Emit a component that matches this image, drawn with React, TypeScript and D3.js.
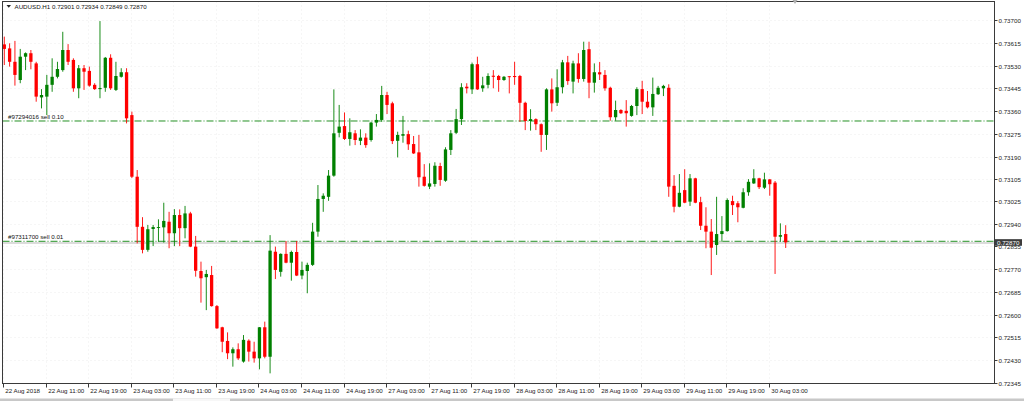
import * as d3 from "d3";
import { useEffect, useRef } from "react";

const symbol = "AUDUSD.H1";

// x axis labels, one every 8 hourly bars (bar 0 = 22 Aug 03:00)
const timeLabels = [
  "22 Aug 2018", "22 Aug 11:00", "22 Aug 19:00", "23 Aug 03:00", "23 Aug 11:00",
  "23 Aug 19:00", "24 Aug 03:00", "24 Aug 11:00", "24 Aug 19:00", "27 Aug 03:00",
  "27 Aug 11:00", "27 Aug 19:00", "28 Aug 03:00", "28 Aug 11:00", "28 Aug 19:00",
  "29 Aug 03:00", "29 Aug 11:00", "29 Aug 19:00", "30 Aug 03:00",
];
const labelStep = 8;

const priceTicks = [
  0.737, 0.73615, 0.7353, 0.73445, 0.7336, 0.73275, 0.7319, 0.73105, 0.73025,
  0.7294, 0.72855, 0.7277, 0.72685, 0.726, 0.72515, 0.7243, 0.72345,
];

const opens = [
  0.73609, 0.73594, 0.73544, 0.73476, 0.73563, 0.73576, 0.73538, 0.73411, 0.73414, 0.73458,
  0.73488, 0.73513, 0.73588, 0.73551, 0.73445, 0.7352, 0.7351, 0.73458, 0.73442, 0.73447,
  0.73559, 0.73439, 0.73488, 0.73505, 0.73345, 0.73115, 0.72928, 0.72842, 0.7292, 0.72925,
  0.72926, 0.72947, 0.72904, 0.72972, 0.72923, 0.72978, 0.72854, 0.72763, 0.7274, 0.72748,
  0.72632, 0.72553, 0.72502, 0.72456, 0.72471, 0.72425, 0.72503, 0.72462, 0.72437, 0.72553,
  0.72443, 0.72835, 0.7276, 0.72827, 0.72794, 0.72834, 0.72746, 0.72763, 0.72786, 0.7291,
  0.73032, 0.7304, 0.73119, 0.73279, 0.73304, 0.73256, 0.73277, 0.73249, 0.73261, 0.73252,
  0.73317, 0.73327, 0.7342, 0.73389, 0.73249, 0.73268, 0.73274, 0.73237, 0.73206, 0.73115,
  0.73078, 0.73088, 0.73155, 0.731, 0.73215, 0.73279, 0.7333, 0.73451, 0.73441, 0.73535,
  0.73445, 0.73458, 0.73492, 0.73491, 0.73476, 0.7349, 0.73491, 0.73491, 0.73391, 0.73323,
  0.7333, 0.73311, 0.73271, 0.73441, 0.73391, 0.73449, 0.73542, 0.7347, 0.73538, 0.7348,
  0.73591, 0.73466, 0.73505, 0.73495, 0.73447, 0.73337, 0.73364, 0.73361, 0.73342, 0.73379,
  0.73442, 0.73395, 0.73374, 0.73423, 0.73445, 0.73447, 0.73081, 0.73003, 0.73065, 0.73022,
  0.73109, 0.7302, 0.72932, 0.7291, 0.7286, 0.72901, 0.72912, 0.73024, 0.73016, 0.72999,
  0.73057, 0.7309, 0.73109, 0.73074, 0.73105, 0.73093, 0.72891, 0.72901,
];
const highs = [
  0.73638, 0.73613, 0.73622, 0.73592, 0.73579, 0.73588, 0.73544, 0.73442, 0.73495, 0.73557,
  0.73544, 0.73656, 0.7361, 0.73557, 0.73532, 0.73532, 0.73526, 0.73464, 0.73696, 0.73562,
  0.73572, 0.73544, 0.7352, 0.7352, 0.73358, 0.7314, 0.72964, 0.72935, 0.72935, 0.72956,
  0.73018, 0.72984, 0.72994, 0.72993, 0.73006, 0.72984, 0.72894, 0.72798, 0.72767, 0.72782,
  0.72636, 0.72555, 0.72534, 0.72478, 0.72493, 0.72524, 0.72508, 0.72499, 0.72554, 0.72574,
  0.72897, 0.72854, 0.72829, 0.72875, 0.72839, 0.72875, 0.72798, 0.72794, 0.72943, 0.73084,
  0.73053, 0.7314, 0.73441, 0.73383, 0.73355, 0.73333, 0.73289, 0.73292, 0.73277, 0.7332,
  0.73349, 0.73454, 0.73432, 0.73395, 0.73283, 0.73342, 0.73287, 0.73267, 0.73271, 0.73162,
  0.73165, 0.73169, 0.73167, 0.73225, 0.73289, 0.73368, 0.73464, 0.73464, 0.73541, 0.73563,
  0.73488, 0.73501, 0.73513, 0.73495, 0.73491, 0.73491, 0.73544, 0.73495, 0.73395, 0.73367,
  0.73333, 0.73314, 0.73445, 0.73482, 0.73516, 0.73551, 0.73566, 0.73548, 0.73576, 0.73619,
  0.73619, 0.73538, 0.73543, 0.73513, 0.73451, 0.73399, 0.73367, 0.73401, 0.73383, 0.73449,
  0.73473, 0.73435, 0.73485, 0.73454, 0.73458, 0.7346, 0.73121, 0.73125, 0.73143, 0.73125,
  0.73111, 0.7304, 0.73001, 0.72957, 0.7304, 0.72968, 0.73034, 0.73044, 0.73024, 0.73072,
  0.73106, 0.73143, 0.73111, 0.7313, 0.73106, 0.73099, 0.72941, 0.72934,
];
const lows = [
  0.73532, 0.73526, 0.73455, 0.73464, 0.73513, 0.73516, 0.73395, 0.7337, 0.73345, 0.73432,
  0.73482, 0.73507, 0.73532, 0.73432, 0.73408, 0.73439, 0.73451, 0.73439, 0.73408, 0.73432,
  0.73439, 0.73435, 0.73485, 0.73314, 0.7311, 0.72866, 0.72829, 0.72835, 0.72856, 0.72872,
  0.72869, 0.72848, 0.72856, 0.72856, 0.72885, 0.72852, 0.72742, 0.72645, 0.72617, 0.7263,
  0.72547, 0.7246, 0.72434, 0.72406, 0.72431, 0.72421, 0.72425, 0.72421, 0.72396, 0.72437,
  0.72381, 0.72733, 0.72742, 0.72792, 0.72727, 0.72744, 0.72732, 0.7268, 0.72782, 0.72891,
  0.72984, 0.73025, 0.73115, 0.73262, 0.73252, 0.73231, 0.73233, 0.73233, 0.73223, 0.73246,
  0.73302, 0.7332, 0.73349, 0.73237, 0.73187, 0.73242, 0.73215, 0.732, 0.73078, 0.73078,
  0.73069, 0.73078, 0.73081, 0.73096, 0.73196, 0.73274, 0.73308, 0.73426, 0.73424, 0.73439,
  0.73432, 0.73445, 0.73445, 0.73432, 0.73473, 0.73426, 0.73458, 0.7332, 0.73289, 0.73287,
  0.73289, 0.73208, 0.73215, 0.73358, 0.73379, 0.73426, 0.73458, 0.73426, 0.73466, 0.7347,
  0.73408, 0.73429, 0.73476, 0.73436, 0.73324, 0.73324, 0.73349, 0.73302, 0.73339, 0.73345,
  0.73349, 0.7337, 0.73342, 0.7342, 0.73416, 0.7304, 0.72982, 0.73001, 0.73016, 0.73006,
  0.73016, 0.72916, 0.72848, 0.72748, 0.72823, 0.72872, 0.7291, 0.72972, 0.72945, 0.72997,
  0.73044, 0.73088, 0.73069, 0.73069, 0.73044, 0.72752, 0.72872, 0.72849,
];
const closes = [
  0.73592, 0.73544, 0.73495, 0.73563, 0.73576, 0.73544, 0.73414, 0.7342, 0.73458, 0.73488,
  0.73517, 0.73588, 0.73544, 0.73445, 0.7352, 0.73507, 0.73455, 0.73442, 0.73446, 0.73559,
  0.73445, 0.73491, 0.73505, 0.73333, 0.73115, 0.72928, 0.72842, 0.72919, 0.72927, 0.72927,
  0.7295, 0.72904, 0.72972, 0.72923, 0.72978, 0.72854, 0.72764, 0.72736, 0.72752, 0.72632,
  0.72549, 0.72499, 0.72456, 0.72471, 0.72437, 0.72506, 0.72462, 0.72437, 0.72553, 0.72443,
  0.72839, 0.72767, 0.72827, 0.72794, 0.72834, 0.72746, 0.72767, 0.72786, 0.7291, 0.73032,
  0.73044, 0.73119, 0.73277, 0.73302, 0.73256, 0.73281, 0.73252, 0.73261, 0.73233, 0.73317,
  0.73327, 0.7342, 0.73383, 0.73248, 0.73271, 0.73274, 0.73236, 0.73202, 0.73113, 0.73081,
  0.7309, 0.73156, 0.73103, 0.73217, 0.73277, 0.7333, 0.73449, 0.73445, 0.73535, 0.73441,
  0.73456, 0.73491, 0.73488, 0.73476, 0.73488, 0.73487, 0.73487, 0.73391, 0.73323, 0.7333,
  0.73311, 0.73271, 0.73441, 0.73389, 0.73449, 0.73542, 0.73472, 0.73538, 0.7348, 0.73588,
  0.73466, 0.73505, 0.73497, 0.73445, 0.73337, 0.73364, 0.73352, 0.73352, 0.73379, 0.73442,
  0.73395, 0.73374, 0.73424, 0.73447, 0.73454, 0.73078, 0.73003, 0.73055, 0.73018, 0.73109,
  0.73018, 0.72932, 0.7291, 0.7285, 0.72901, 0.72912, 0.73028, 0.73009, 0.73001, 0.73057,
  0.73096, 0.73109, 0.73076, 0.73105, 0.73087, 0.72891, 0.72897, 0.7287,
];

const orderLabels = ["#97294016 sell 0.10", "#97311700 sell 0.01"];
const orderPrices = [0.73323, 0.72874];

const font = "'Liberation Sans', Arial, sans-serif";
const bullColor = "#008000";
const bearColor = "#ff0000";
const orderColor = "#239023";

// plot frame
const frameLeft = 2.5;
const frameRight = 994.5;
const frameTop = 1.5;
const frameBottom = 383.5;

export default function App() {
  const ref = useRef<SVGSVGElement>(null);

  useEffect(() => {
    document.body.style.margin = "0";
    const svg = d3.select(ref.current);
    svg.selectAll("*").remove();

    const n = closes.length;
    const x = d3.scaleLinear().domain([0, n - 1]).range([4.3, 785.7]);
    const y = d3.scaleLinear().domain([0.72345, 0.737]).range([383, 20]);

    svg.append("rect").attr("width", 1024).attr("height", 401).attr("fill", "#fff");

    svg.append("clipPath").attr("id", "plot-clip")
      .append("rect")
      .attr("x", frameLeft).attr("y", frameTop)
      .attr("width", frameRight - frameLeft).attr("height", frameBottom - frameTop);

    // dotted grid, barely visible
    const grid = svg.append("g")
      .attr("stroke", "#ececec")
      .attr("stroke-dasharray", "1 3");
    grid.selectAll("line.h")
      .data(priceTicks)
      .join("line")
      .attr("x1", frameLeft).attr("x2", frameRight)
      .attr("y1", d => Math.round(y(d)) + 0.5).attr("y2", d => Math.round(y(d)) + 0.5);
    grid.selectAll("line.v")
      .data(timeLabels)
      .join("line")
      .attr("class", "v")
      .attr("x1", (_, i) => Math.round(x(i * labelStep) - 1) + 0.5)
      .attr("x2", (_, i) => Math.round(x(i * labelStep) - 1) + 0.5)
      .attr("y1", frameTop).attr("y2", frameBottom);

    const plot = svg.append("g").attr("clip-path", "url(#plot-clip)");

    // bid line
    const last = closes[n - 1];
    plot.append("line")
      .attr("x1", frameLeft).attr("x2", frameRight)
      .attr("y1", y(last) + 0.6).attr("y2", y(last) + 0.6)
      .attr("stroke", "#dcdcdc").attr("stroke-width", 2);

    // order lines
    orderPrices.forEach((p, i) => {
      plot.append("line")
        .attr("x1", frameLeft).attr("x2", frameRight)
        .attr("y1", y(p)).attr("y2", y(p))
        .attr("stroke", orderColor)
        .attr("stroke-width", 1)
        .attr("stroke-dasharray", "7 2 1 2");
      plot.append("text")
        .attr("x", 8).attr("y", y(p) - 2.3)
        .attr("font-family", font).attr("font-size", 6.2)
        .attr("fill", "#111")
        .text(orderLabels[i]);
    });

    // candles
    const idx = d3.range(n);
    const color = (i: number) => (closes[i] >= opens[i] ? bullColor : bearColor);
    const candles = plot.append("g");
    candles.selectAll("line")
      .data(idx)
      .join("line")
      .attr("x1", i => x(i)).attr("x2", i => x(i))
      .attr("y1", i => y(highs[i])).attr("y2", i => y(lows[i]))
      .attr("stroke", color)
      .attr("stroke-width", 0.9);
    candles.selectAll("rect")
      .data(idx)
      .join("rect")
      .attr("x", i => x(i) - 1.65)
      .attr("width", 3.3)
      .attr("y", i => y(Math.max(opens[i], closes[i])))
      .attr("height", i => Math.max(0.9, Math.abs(y(opens[i]) - y(closes[i]))))
      .attr("fill", color);

    // frame
    svg.append("rect")
      .attr("x", frameLeft).attr("y", frameTop)
      .attr("width", frameRight - frameLeft).attr("height", frameBottom - frameTop)
      .attr("fill", "none").attr("stroke", "#3a3a3a");

    // price axis
    const yAxis = svg.append("g").attr("font-family", font).attr("font-size", 6.2).attr("fill", "#222");
    priceTicks.forEach(p => {
      const py = Math.round(y(p)) + 0.5;
      yAxis.append("line")
        .attr("x1", frameRight).attr("x2", frameRight + 3)
        .attr("y1", py).attr("y2", py)
        .attr("stroke", "#3a3a3a");
      yAxis.append("text")
        .attr("x", 998.5).attr("y", py + 2.3)
        .text(p.toFixed(5));
    });

    // current price label (covers the tick label beneath it, as in the terminal)
    svg.append("rect")
      .attr("x", 995).attr("y", y(last) - 3.2)
      .attr("width", 27).attr("height", 6.6)
      .attr("fill", "#3c3c3c");
    svg.append("text")
      .attr("x", 997).attr("y", y(last) + 2.2)
      .attr("font-family", font).attr("font-size", 6.2)
      .attr("fill", "#fff")
      .text(last.toFixed(5));

    // time axis
    const xAxis = svg.append("g").attr("font-family", font).attr("font-size", 6.2).attr("fill", "#222");
    timeLabels.forEach((label, i) => {
      const tx = Math.round(x(i * labelStep) - 1) + 0.5;
      xAxis.append("line")
        .attr("x1", tx).attr("x2", tx)
        .attr("y1", frameBottom).attr("y2", frameBottom + 4)
        .attr("stroke", "#3a3a3a");
      xAxis.append("text")
        .attr("x", tx + 1.8).attr("y", 392.5)
        .text(label);
    });

    // header
    svg.append("path").attr("d", "M6.5,5 L11,5 L8.75,7.8 Z").attr("fill", "#222");
    svg.append("text")
      .attr("x", 14.5).attr("y", 9)
      .attr("font-family", font).attr("font-size", 6.2)
      .attr("fill", "#111")
      .text(`${symbol}  ${opens[n - 1].toFixed(5)} ${highs[n - 1].toFixed(5)} ${lows[n - 1].toFixed(5)} ${last.toFixed(5)}`);

    // chart shift marker
    svg.append("path").attr("d", "M792.5,0 L797.5,0 L795,4 Z").attr("fill", "#b0b0b0");

    // bottom tab strip
    svg.append("rect").attr("x", 0).attr("y", 398.5).attr("width", 1024).attr("height", 2.5).attr("fill", "#c8c8c8");
    svg.append("rect").attr("x", 173).attr("y", 398.5).attr("width", 57).attr("height", 2.5).attr("fill", "#f7f7f7");
  }, []);

  return <svg ref={ref} width={1024} height={401} style={{ display: "block" }} />;
}
